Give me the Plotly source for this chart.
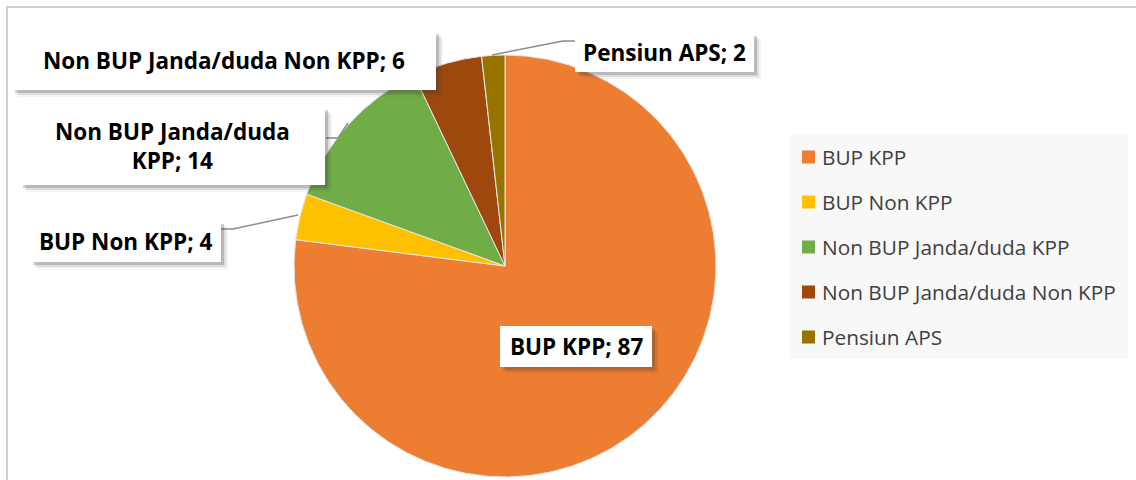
import plotly.graph_objects as go

labels = ["BUP KPP", "BUP Non KPP", "Non BUP Janda/duda KPP", "Non BUP Janda/duda Non KPP", "Pensiun APS"]
values = [87, 4, 14, 6, 2]
colors = ["#ED7D31", "#FFC000", "#70AD47", "#9E480E", "#997300"]

W, H = 1136, 480
def px(x): return x / W
def py(y): return 1 - y / H

cx, cy, r = 505, 266, 211

fig = go.Figure()
fig.add_trace(go.Pie(
    labels=labels, values=values, sort=False, direction="clockwise", rotation=0,
    marker=dict(colors=colors, line=dict(color="#E8E8E8", width=1)),
    textinfo="none", hoverinfo="label+value", showlegend=False,
    domain=dict(x=[px(cx - r), px(cx + r)], y=[py(cy + r), py(cy - r)]),
))

shapes = []
annotations = []

# chart border
shapes.append(dict(type="rect", xref="paper", yref="paper", x0=px(7), x1=px(1145), y0=py(7), y1=py(495),
                   line=dict(color="#D0D0D0", width=2), fillcolor="rgba(0,0,0,0)", layer="below"))

# data label boxes: (left, top, right, bottom) in pixels, per slice
boxes = {
    "BUP KPP": (500, 326, 652, 367),
    "BUP Non KPP": (30, 221, 221, 262),
    "Non BUP Janda/duda KPP": (20, 107, 325, 185),
    "Non BUP Janda/duda Non KPP": (12, 31, 436, 90),
    "Pensiun APS": (575, 33, 754, 72),
}
wraps = {"Non BUP Janda/duda KPP": "Non BUP Janda/duda<br>KPP"}

# leader lines
leaders = [
    [(492, 55), (563, 41), (575, 41)],
    [(348, 123), (338, 138), (326, 138)],
    [(298, 215), (233, 229), (221, 229)],
]
for pts in leaders:
    path = "M " + " L ".join(f"{px(x)},{py(y)}" for x, y in pts)
    shapes.append(dict(type="path", xref="paper", yref="paper", path=path,
                       line=dict(color="#8C8C8C", width=1.5), layer="above"))

for lab, val in zip(labels, values):
    x0, y0, x1, y1 = boxes[lab]
    # shadow
    for off, op in [(7, 0.06), (5, 0.12), (3, 0.22)]:
        shapes.append(dict(type="rect", xref="paper", yref="paper",
                           x0=px(x0 + off), x1=px(x1 + off), y0=py(y0 + off), y1=py(y1 + off),
                           line=dict(width=0), fillcolor=f"rgba(60,60,60,{op})", layer="above"))
    shapes.append(dict(type="rect", xref="paper", yref="paper",
                       x0=px(x0), x1=px(x1), y0=py(y0), y1=py(y1),
                       line=dict(width=0), fillcolor="white", layer="above"))
    annotations.append(dict(xref="paper", yref="paper", x=px((x0 + x1) / 2), y=py((y0 + y1) / 2),
                            text=f"<b>{wraps.get(lab, lab)}; {val}</b>", showarrow=False,
                            xanchor="center", yanchor="middle", align="center",
                            font=dict(family="Open Sans", size=22.5, color="#000000")))

# legend (manual, drawn from labels/colors)
shapes.append(dict(type="rect", xref="paper", yref="paper", x0=px(790), x1=px(1128), y0=py(134), y1=py(359),
                   line=dict(width=0), fillcolor="#F8F8F8", layer="below"))
leg_y0, leg_dy = 157, 45
for i, (lab, col) in enumerate(zip(labels, colors)):
    yc = leg_y0 + i * leg_dy
    shapes.append(dict(type="rect", xref="paper", yref="paper", x0=px(802), x1=px(815),
                       y0=py(yc - 6.5), y1=py(yc + 6.5), line=dict(width=0), fillcolor=col, layer="above"))
    annotations.append(dict(xref="paper", yref="paper", x=px(820), y=py(yc), text=lab, showarrow=False,
                            xanchor="left", yanchor="middle",
                            font=dict(family="Open Sans", size=20.8, color="#404040")))

fig.update_layout(
    width=W, height=H, margin=dict(l=0, r=0, t=0, b=0),
    paper_bgcolor="white", plot_bgcolor="white",
    shapes=shapes, annotations=annotations, showlegend=False,
)
fig.write_html("out.html", config={"displayModeBar": False},
               post_script="document.body.style.margin='0';")
